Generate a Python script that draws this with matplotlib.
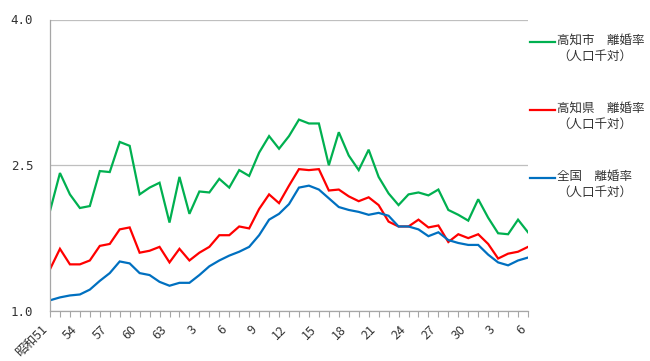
import matplotlib
matplotlib.use("Agg")
import matplotlib.pyplot as plt
from matplotlib.lines import Line2D

plt.rcParams["font.family"] = ["Noto Sans CJK JP", "DejaVu Sans"]

# 昭和51 (1976) .. 令和6 (2024)
years = list(range(1976, 2025))
tick_labels = ["昭和51", "54", "57", "60", "63", "3", "6", "9", "12", "15",
               "18", "21", "24", "27", "30", "3", "6"]

kochi_city = [2.03, 2.42, 2.20, 2.06, 2.08, 2.44, 2.43, 2.74, 2.70, 2.20,
              2.27, 2.32, 1.91, 2.38, 2.00, 2.23, 2.22, 2.36, 2.27, 2.45,
              2.39, 2.63, 2.80, 2.67, 2.80, 2.97, 2.93, 2.93, 2.50, 2.84,
              2.60, 2.45, 2.66, 2.38, 2.21, 2.09, 2.20, 2.22, 2.19, 2.25,
              2.04, 1.99, 1.93, 2.15, 1.96, 1.80, 1.79, 1.94, 1.81]
kochi_pref = [1.43, 1.64, 1.48, 1.48, 1.52, 1.67, 1.69, 1.84, 1.86, 1.60,
              1.62, 1.66, 1.50, 1.64, 1.52, 1.60, 1.66, 1.78, 1.78, 1.87,
              1.85, 2.05, 2.20, 2.11, 2.29, 2.46, 2.45, 2.46, 2.24, 2.25,
              2.18, 2.13, 2.17, 2.09, 1.92, 1.87, 1.87, 1.94, 1.86, 1.88,
              1.71, 1.79, 1.75, 1.79, 1.69, 1.54, 1.59, 1.61, 1.66]
national = [1.11, 1.14, 1.16, 1.17, 1.22, 1.31, 1.39, 1.51, 1.49, 1.39,
            1.37, 1.30, 1.26, 1.29, 1.29, 1.37, 1.46, 1.52, 1.57, 1.61,
            1.66, 1.78, 1.94, 2.00, 2.10, 2.27, 2.29, 2.25, 2.16, 2.07,
            2.04, 2.02, 1.99, 2.01, 1.98, 1.87, 1.87, 1.84, 1.77, 1.81,
            1.73, 1.70, 1.68, 1.68, 1.58, 1.50, 1.47, 1.52, 1.55]

series = [
    ("高知市　離婚率\n（人口千対）", kochi_city, "#00B050"),
    ("高知県　離婚率\n（人口千対）", kochi_pref, "#FF0000"),
    ("全国　離婚率\n（人口千対）", national, "#0070C0"),
]

W, H = 650, 361
fig = plt.figure(figsize=(W / 100, H / 100), dpi=100)
ax = fig.add_axes([50 / W, 1 - 311 / H, 478 / W, 291.5 / H])

x = list(range(len(years)))
for label, vals, col in series:
    ax.plot(x, vals, color=col, lw=1.6, solid_joinstyle="miter")

ax.set_xlim(0, len(years) - 1)
ax.set_ylim(1.0, 4.0)
ax.set_yticks([1.0, 2.5, 4.0])
ax.set_yticklabels(["1.0", "2.5", "4.0"])
ax.grid(axis="y", color="#BFBFBF", lw=0.9)
ax.set_axisbelow(True)

ax.set_xticks(x, minor=True)
ax.set_xticks(x[::3])
ax.set_xticklabels(tick_labels, rotation=45, ha="right", va="top")
ax.tick_params(axis="x", which="both", length=4.5, color="#A6A6A6",
               width=0.8, labelsize=9, pad=4, labelcolor="#333333")
ax.tick_params(axis="y", length=0, labelsize=9, pad=12, labelcolor="#333333")
for t in ax.get_yticklabels():
    t.set_family(["DejaVu Sans Mono"])

for s in ("top", "right"):
    ax.spines[s].set_visible(False)
for s in ("left", "bottom"):
    ax.spines[s].set_color("#A6A6A6")
    ax.spines[s].set_linewidth(0.9)

# legend drawn by hand on the right
for i, (label, vals, col) in enumerate(series):
    yc = 42 + i * 68
    fig.add_artist(Line2D([530 / W, 555 / W], [1 - yc / H, 1 - yc / H],
                          color=col, lw=1.6))
    fig.text(557 / W, 1 - (yc - 8) / H, label, fontsize=9, color="#333333",
             ha="left", va="top", linespacing=1.3)

fig.savefig("out.png", dpi=100)
